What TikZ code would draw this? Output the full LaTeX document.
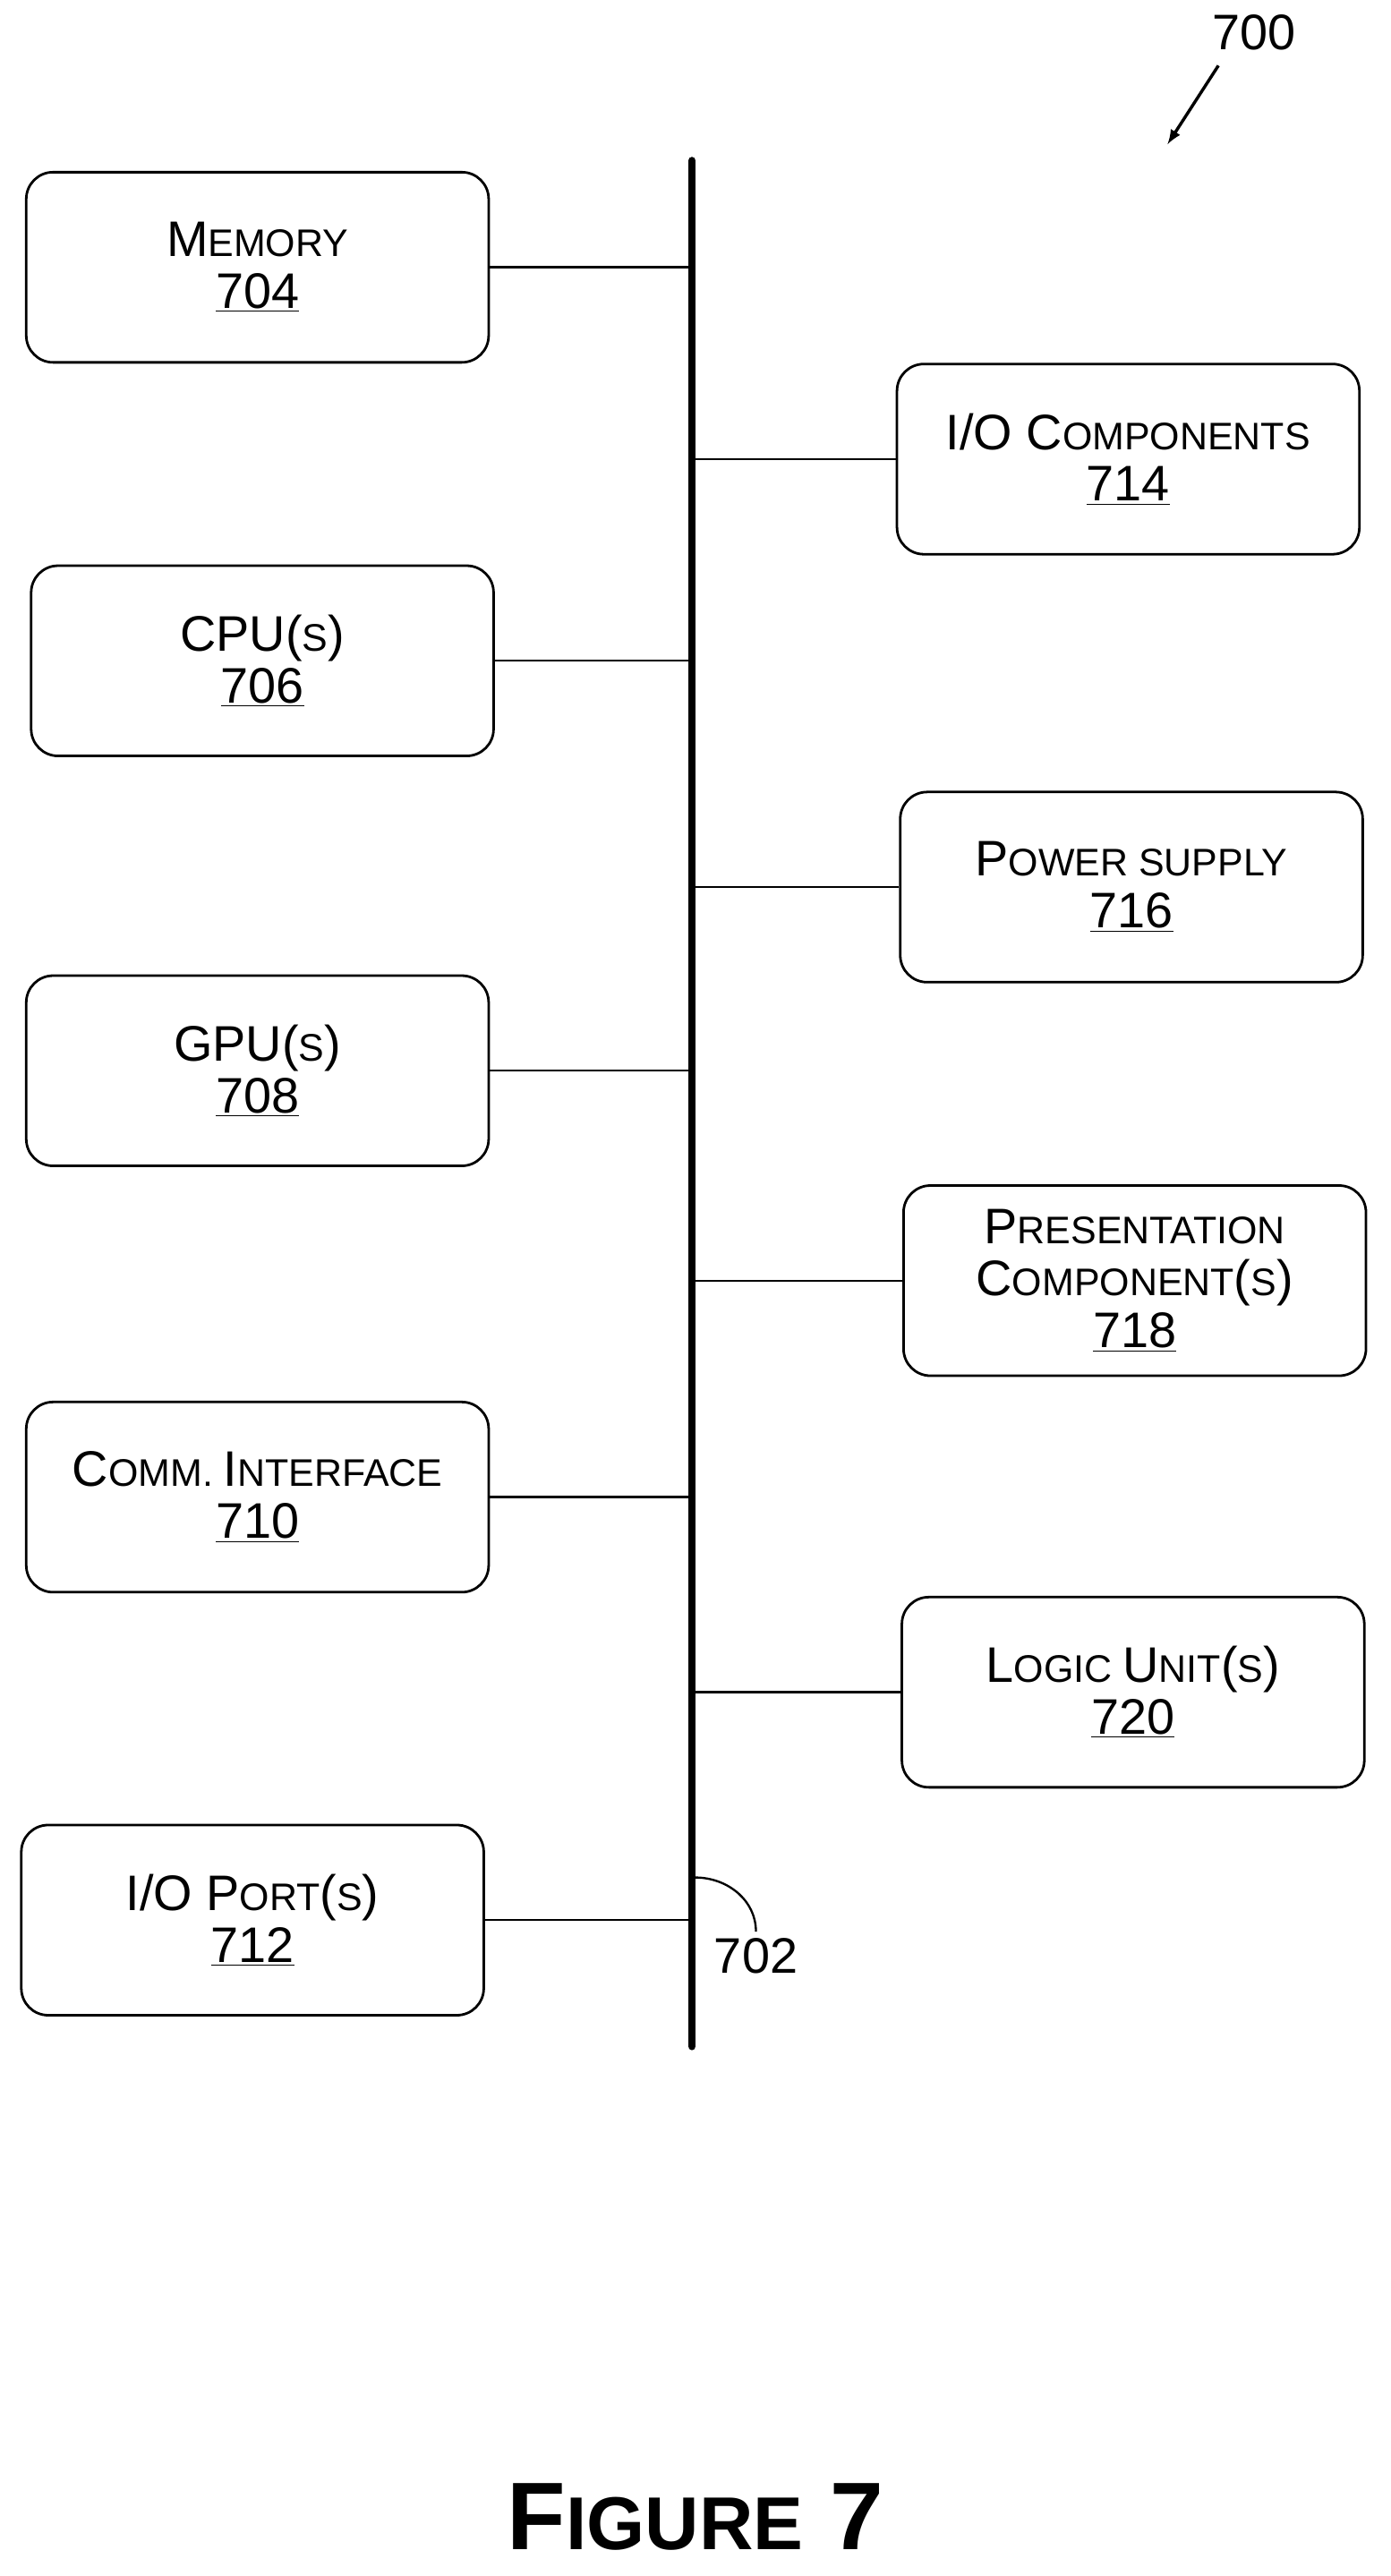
\documentclass[tikz,border=0pt]{standalone}
\usepackage{fontspec}
\setmainfont{Liberation Sans}
\usepackage{tikz}

\newcommand{\capl}[1]{{\fontsize{26}{27}\selectfont #1}}
\tikzset{
    unit/.style={draw, line width=1.3pt, rounded corners=14pt, minimum width=282*0.03cm, minimum height=116*0.03cm, align=center, font=\fontsize{20}{27}\selectfont},
    link/.style={line width=1.1pt},
}

\begin{document}
\begin{tikzpicture}[x=0.03cm, y=-0.03cm]

    \useasboundingbox (0,0) rectangle (848,1571);

    % Bus
    \coordinate (bustop) at (422,98);
    \coordinate (busbot) at (422,1248);
    \draw[line width=4pt, line cap=round] (bustop) -- (busbot);

    % Left column
    \node[unit] (mem) at (157,163) {\capl{M}EMORY\\\capl{\underline{704}}};
    \node[unit] (cpu) at (160,403) {\capl{CPU(}S\capl{)}\\\capl{\underline{706}}};
    \node[unit] (gpu) at (157,653) {\capl{GPU(}S\capl{)}\\\capl{\underline{708}}};
    \node[unit] (comm) at (157,913) {\capl{C}OMM. \capl{I}NTERFACE\\\capl{\underline{710}}};
    \node[unit] (port) at (154,1171) {\capl{I/O P}ORT\capl{(}S\capl{)}\\\capl{\underline{712}}};

    % Right column
    \node[unit] (ioc) at (688,280) {\capl{I/O C}OMPONENTS\\\capl{\underline{714}}};
    \node[unit] (pwr) at (690,541) {\capl{P}OWER SUPPLY\\\capl{\underline{716}}};
    \node[unit] (pres) at (692,781) {\capl{P}RESENTATION\\\capl{C}OMPONENT\capl{(}S\capl{)}\\\capl{\underline{718}}};
    \node[unit] (logic) at (691,1032) {\capl{L}OGIC \capl{U}NIT\capl{(}S\capl{)}\\\capl{\underline{720}}};

    % Links to bus
    \foreach \n in {mem,cpu,gpu,comm,port}
        \draw[link] (\n.east) -- (\n.east -| bustop);
    \foreach \n in {ioc,pwr,pres,logic}
        \draw[link] (\n.west) -- (\n.west -| bustop);

    % Reference labels
    \coordinate (bushook) at (424,1145);
    \node[font=\fontsize{26}{30}\selectfont] (busref) at (461,1193) {702};
    \draw[link] (bushook) to[out=0, in=90] (busref.north);

    \node[font=\fontsize{26}{30}\selectfont] (figref) at (765,20) {700};
    \coordinate (figtip) at (712,88);
    \draw[-latex, line width=1.6pt] (743,40) -- (figtip);

    \node[font=\bfseries\fontsize{50}{52}\selectfont] (caption) at (424,1535) {F{\fontsize{39}{42}\selectfont IGURE} 7};

\end{tikzpicture}
\end{document}
